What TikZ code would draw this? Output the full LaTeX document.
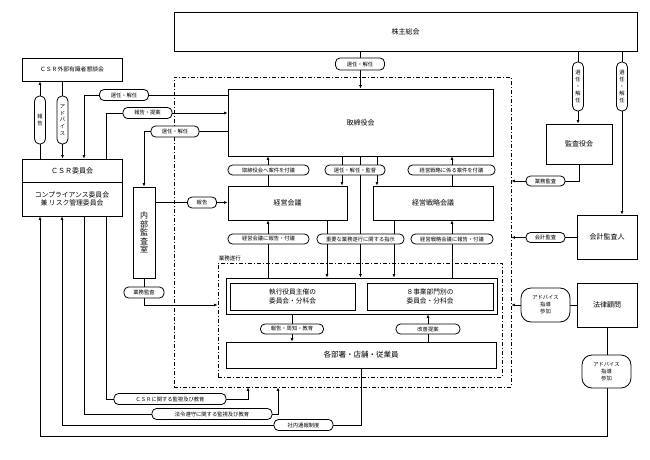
\documentclass[tikz,border=0pt]{standalone}
\usepackage{fontspec}
\setmainfont{Noto Sans CJK JP}
\usetikzlibrary{arrows.meta,backgrounds,calc}
\tikzset{
 box/.style={draw, line width=0.9pt, inner sep=0pt, align=center, font=\fontsize{7}{9}\selectfont},
 lbl/.style={draw, fill=white, line width=0.8pt, rounded corners=4.5pt, inner sep=0pt, minimum height=10pt, font=\fontsize{5.3}{6.5}\selectfont},
 vlbl/.style={lbl, rounded corners=5pt, minimum width=11pt, align=center, font=\fontsize{5.3}{6.8}\selectfont},
 blbl/.style={lbl, rounded corners=10pt, align=center, font=\fontsize{5.3}{7}\selectfont},
 ln/.style={line width=0.8pt},
 arr/.style={ln, -{Latex[length=3.5pt,width=3pt]}},
 region/.style={draw, line width=0.9pt, dash pattern=on 4pt off 2pt on 1pt off 2pt, inner sep=0pt},
}
\begin{document}
\begin{tikzpicture}[x=1pt,y=-1pt]
\useasboundingbox (0,0) rectangle (650,460);
% regions
\node[region, minimum width=337pt, minimum height=310pt] (outer) at (342.5,232) {};
\node[region, minimum width=284pt, minimum height=114pt] (gyomu) at (360,320) {};
\node[anchor=south west, inner sep=1pt, font=\fontsize{5.5}{6.5}\selectfont] (gyolbl) at (gyomu.north west) {業務遂行};
% boxes
\node[box, minimum width=463pt, minimum height=39pt] (kabu) at (405.5,31.5) {株主総会};
\node[box, minimum width=265pt, minimum height=67pt] (tori) at (360.5,122.5) {取締役会};
\node[box, minimum width=119pt, minimum height=34pt] (keiei) at (287.5,203) {経営会議};
\node[box, minimum width=120pt, minimum height=34pt] (senryaku) at (433,203) {経営戦略会議};
\node[box, minimum width=271pt, minimum height=36pt] (frame) at (361.5,296) {};
\node[box, minimum width=125pt, minimum height=27pt, font=\fontsize{6.7}{8.5}\selectfont] (shikkou) at (292.5,296.5) {執行役員主催の\\委員会・分科会};
\node[box, minimum width=126pt, minimum height=27pt, font=\fontsize{6.7}{8.5}\selectfont] (jigyo) at (430,296.5) {８事業部門別の\\委員会・分科会};
\node[box, minimum width=270pt, minimum height=26pt, font=\fontsize{7.5}{9}\selectfont] (kakubu) at (361,355) {各部署・店舗・従業員};
\node[box, minimum width=66pt, minimum height=40pt] (kansa) at (579,144) {監査役会};
\node[box, minimum width=60pt, minimum height=44pt] (kaikei) at (607,237) {会計監査人};
\node[box, minimum width=60pt, minimum height=44pt] (houritsu) at (607,305) {法律顧問};
\node[box, minimum width=100pt, minimum height=23pt, font=\fontsize{5.8}{7}\selectfont] (gaibu) at (72,69.5) {ＣＳＲ外部有識者懇談会};
\node[box, minimum width=100pt, minimum height=57pt] (csr) at (72,187.5) {};
\coordinate (div) at (0,182);
\draw[line width=0.9pt] (csr.west |- div) -- (csr.east |- div);
\node[font=\fontsize{7}{9}\selectfont, inner sep=0pt] (csrtop) at (72,171) {ＣＳＲ委員会};
\node[align=center, font=\fontsize{6.8}{8}\selectfont, inner sep=0pt] (csrbot) at (72,199) {コンプライアンス委員会\\兼 リスク管理委員会};
\node[box, minimum width=22pt, minimum height=91pt, font=\fontsize{8}{8.6}\selectfont] (naibu) at (144,232.5) {内\\部\\監\\査\\室};
% labels
\node[lbl, minimum width=49pt, minimum height=12pt] (l1) at (360,64) {選任・解任};
\node[lbl, minimum width=81pt] (l2) at (268.5,170) {取締役会へ案件を付議};
\node[lbl, minimum width=60pt] (l3) at (355,170) {選任・解任・監督};
\node[lbl, minimum width=87pt] (l4) at (451.5,170) {経営戦略に係る案件を付議};
\node[lbl, minimum width=81pt] (l5) at (268.5,239) {経営会議に報告・付議};
\node[lbl, minimum width=87pt] (l6) at (360.5,239) {重要な業務遂行に関する指示};
\node[lbl, minimum width=82pt] (l7) at (452,239) {経営戦略会議に報告・付議};
\node[lbl, minimum width=63pt] (l8) at (292,329) {報告・周知・教育};
\node[lbl, minimum width=64pt] (l9) at (428,329) {改善提案};
\node[lbl, minimum width=39pt] (l10) at (545.5,181) {業務監査};
\node[lbl, minimum width=39pt] (l11) at (545.5,237.5) {会計監査};
\node[blbl, minimum width=49pt, minimum height=34pt] (l12) at (545.5,305) {アドバイス\\指導\\参加};
\node[blbl, minimum width=49pt, minimum height=33pt] (l13) at (606.5,371.5) {アドバイス\\指導\\参加};
\node[lbl, minimum width=49pt, minimum height=11pt] (l14) at (124,95) {選任・解任};
\node[lbl, minimum width=49pt, minimum height=11pt] (l15) at (147.5,113) {報告・提案};
\node[lbl, minimum width=48pt, minimum height=11pt] (l16) at (175,131.5) {選任・解任};
\node[lbl, minimum width=29pt, minimum height=11pt] (l17) at (202,202.5) {報告};
\node[lbl, minimum width=40pt, minimum height=11pt] (l18) at (144,292.5) {業務監査};
\node[lbl, minimum width=112pt, minimum height=11pt] (l19) at (170,399) {ＣＳＲに関する監視及び教育};
\node[lbl, minimum width=120pt, minimum height=11pt] (l20) at (212,414) {法令遵守に関する監視及び教育};
\node[lbl, minimum width=59pt, minimum height=11pt] (l21) at (303.5,425) {社内通報制度};
\node[vlbl, minimum height=48pt] (v1) at (40,120) {報\\告};
\node[vlbl, minimum height=48pt] (v2) at (62.5,120) {ア\\ド\\バ\\イ\\ス};
\node[vlbl, minimum height=49pt] (v3) at (578,86.5) {選\\任\\・\\解\\任};
\node[vlbl, minimum height=49pt] (v4) at (622,86.5) {選\\任\\・\\解\\任};
% column coordinates
\coordinate (bot) at (0,436);
\coordinate (y305) at (0,305);
\coordinate (c62) at (62,0);
\coordinate (c84) at (84,0);
\coordinate (c106) at (106,0);
\coordinate (c248) at (248,0);
\coordinate (c278) at (278,0);
\coordinate (c268) at (268,0);
\coordinate (c292) at (292,0);
\coordinate (c327) at (327,0);
\coordinate (c342) at (342,0);
\coordinate (c377) at (377,0);
\coordinate (c394) at (394,0);
\coordinate (c428) at (428,0);
\coordinate (c452) at (452,0);
% connectors
\begin{scope}[on background layer]
\draw[arr] (kabu.south -| tori.north) -- (tori.north);
\draw[arr] (kabu.south -| v3) -- (kansa.north -| v3);
\draw[arr] (kabu.south -| v4) -- (kaikei.north -| v4);
\draw[arr] (kansa.south) |- (outer.east |- l10);
\draw[arr] (kaikei.west |- l11) -- (outer.east |- l11);
\draw[arr] (houritsu.west) -- (outer.east |- houritsu.west);
\draw[arr] (houritsu.south) -- (houritsu.south |- bot) -| (csr.south -| v1);
\draw[arr] (csr.north -| v1) -- (gaibu.south -| v1);
\draw[arr] (gaibu.south -| v2) -- (csr.north -| v2);
\draw[arr] (tori.west |- l14) -| (csr.north -| c84);
\draw[arr] (csr.north -| c106) |- (tori.west |- l15);
\draw[arr] (tori.west |- l16) -| (naibu.north);
\draw[arr] (naibu.east |- l17) -- (keiei.west |- l17);
\draw[arr] (naibu.south) |- (gyomu.west |- y305);
\draw[arr] (keiei.north -| c268) -- (tori.south -| c268);
\draw[arr] (tori.south -| c342) -- (keiei.north -| c342);
\draw[arr] (tori.south) -- (frame.north -| tori.south);
\draw[arr] (tori.south -| c377) -- (senryaku.north -| c377);
\draw[arr] (senryaku.north -| c452) -- (tori.south -| c452);
\draw[arr] (frame.north -| c268) -- (keiei.south -| c268);
\draw[arr] (keiei.south -| c327) -- (frame.north -| c327);
\draw[arr] (senryaku.south -| c394) -- (frame.north -| c394);
\draw[arr] (frame.north -| c452) -- (senryaku.south -| c452);
\draw[arr] (frame.south -| c292) -- (kakubu.north -| c292);
\draw[arr] (kakubu.north -| c428) -- (frame.south -| c428);
\draw[arr] (kakubu.south) |- (c62 |- l21) -- (csr.south -| c62);
\draw[arr] (csr.south -| c84) |- (c278 |- l20) -- (outer.south -| c278);
\draw[arr] (csr.south -| c106) |- (c248 |- l19) -- (outer.south -| c248);
\end{scope}
\end{tikzpicture}
\end{document}
